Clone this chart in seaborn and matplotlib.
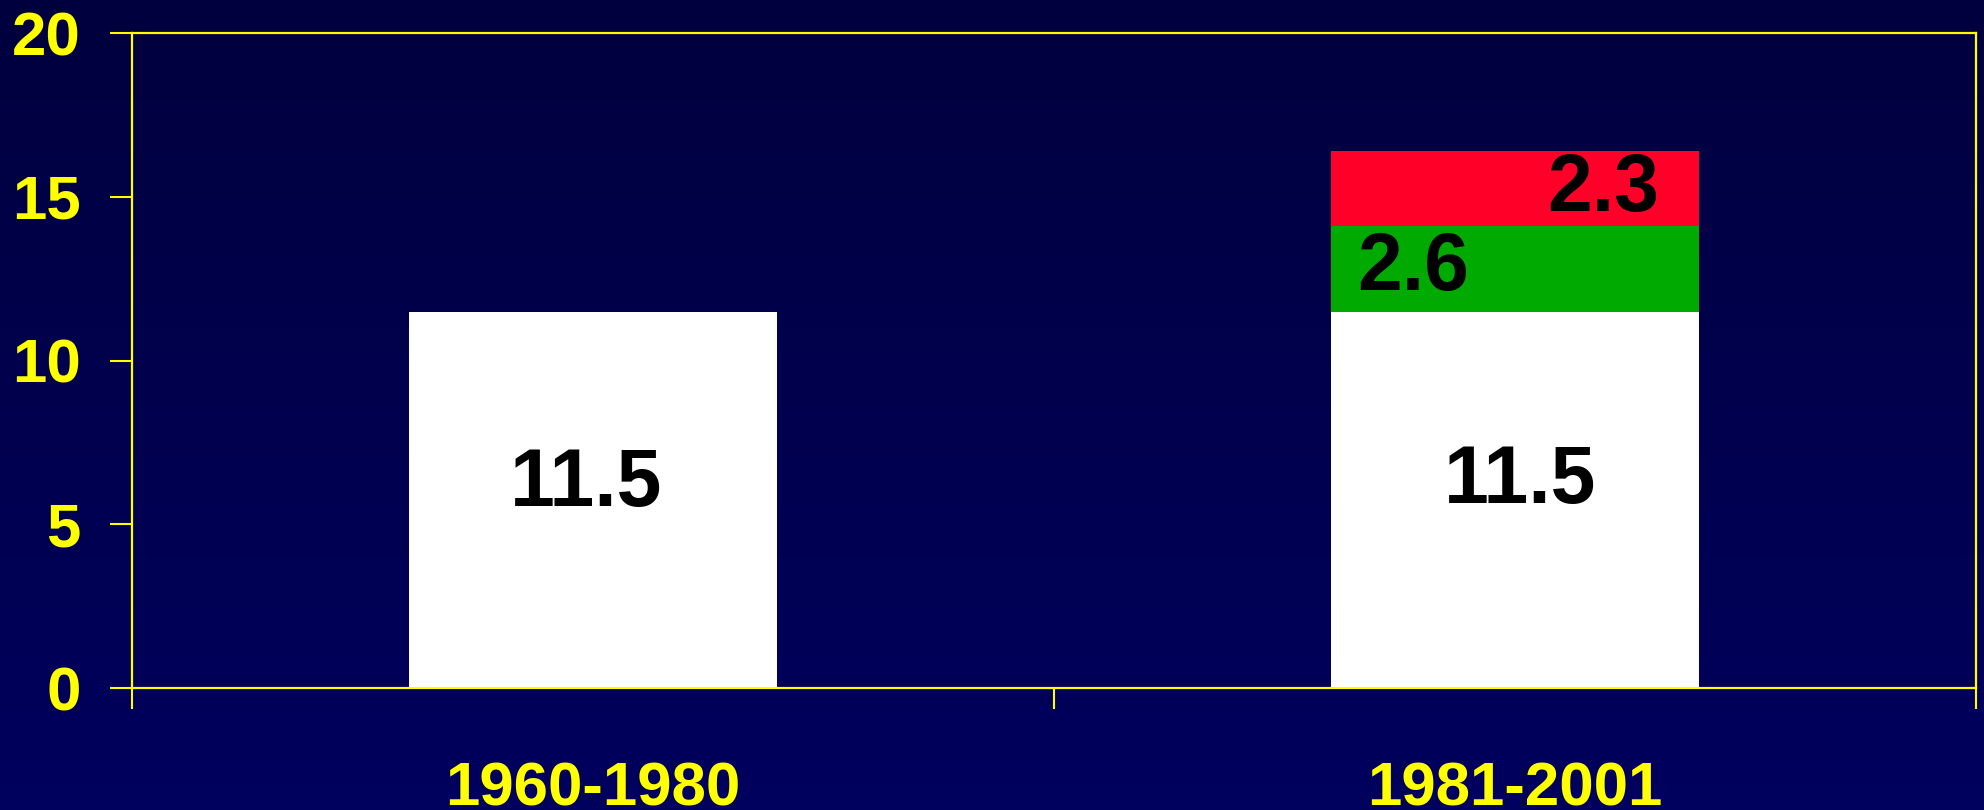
import matplotlib
matplotlib.use("Agg")
import matplotlib.pyplot as plt
import numpy as np
import pandas as pd
import seaborn as sns

periods = ["1960-1980", "1981-2001"]
base_part = [11.5, 11.5]
green_part = [0.0, 2.6]
red_part = [0.0, 2.3]
y_ticks = [0, 5, 10, 15, 20]

sns.set_theme(style="white")
plt.rcParams["font.family"] = ["Liberation Sans", "DejaVu Sans"]
plt.rcParams["font.weight"] = "bold"

df = pd.DataFrame({"period": periods, "base": base_part, "green": green_part, "red": red_part})
df["to_green"] = df["base"] + df["green"]
df["to_red"] = df["to_green"] + df["red"]

fig = plt.figure(figsize=(19.84, 8.10), dpi=100)

# dark blue gradient behind everything
bg = fig.add_axes([0, 0, 1, 1], zorder=-10)
grad = np.linspace(0, 1, 256).reshape(-1, 1)
cmap = matplotlib.colors.LinearSegmentedColormap.from_list("bg", ["#00003e", "#00005e"])
bg.imshow(grad, aspect="auto", cmap=cmap, extent=[0, 1, 0, 1], origin="upper")
bg.axis("off")

ax = fig.add_axes([0.0665, 0.1506, 0.9295, 0.8084])
ax.set_facecolor("none")

# stacked by overdrawing cumulative totals
sns.barplot(data=df, x="period", y="to_red", color="#ff0029", saturation=1, width=0.4, linewidth=0, ax=ax)
sns.barplot(data=df, x="period", y="to_green", color="#00aa00", saturation=1, width=0.4, linewidth=0, ax=ax)
sns.barplot(data=df, x="period", y="base", color="#ffffff", saturation=1, width=0.4, linewidth=0, ax=ax)

lab = dict(color="black", fontsize=58, fontweight="bold", va="center")
ax.text(-0.008, 6.2, f"{base_part[0]}", ha="center", **lab)
ax.text(1.005, 6.3, f"{base_part[1]}", ha="center", **lab)
ax.text(0.89, 12.8, f"{green_part[1]}", ha="center", **lab)
ax.text(1.096, 15.2, f"{red_part[1]}", ha="center", **lab)

ax.set_xlim(-0.5, 1.5)
ax.set_ylim(0, 20)
ax.set_yticks(y_ticks)
ax.set_xticks([-0.5, 0.5, 1.5])
ax.set_xticklabels([])
ax.set_xticks([0, 1], minor=True)
ax.set_xticklabels(periods, minor=True)
ax.set_xlabel("")
ax.set_ylabel("")

ax.tick_params(axis="y", which="major", direction="out", length=16, width=1.5, color="#ffff00",
               labelcolor="#ffff00", labelsize=44.5, pad=21, left=True)
ax.tick_params(axis="x", which="major", direction="out", length=15, width=1.5, color="#ffff00", bottom=True)
ax.tick_params(axis="x", which="minor", length=0, labelcolor="#ffff00", labelsize=44.5, pad=53)
for lbl in ax.get_yticklabels() + ax.get_xticklabels(minor=True):
    lbl.set_fontweight("bold")

for s in ax.spines.values():
    s.set_visible(True)
    s.set_color("#ffff00")
    s.set_linewidth(1.6)

fig.savefig("out.png", dpi=100)
